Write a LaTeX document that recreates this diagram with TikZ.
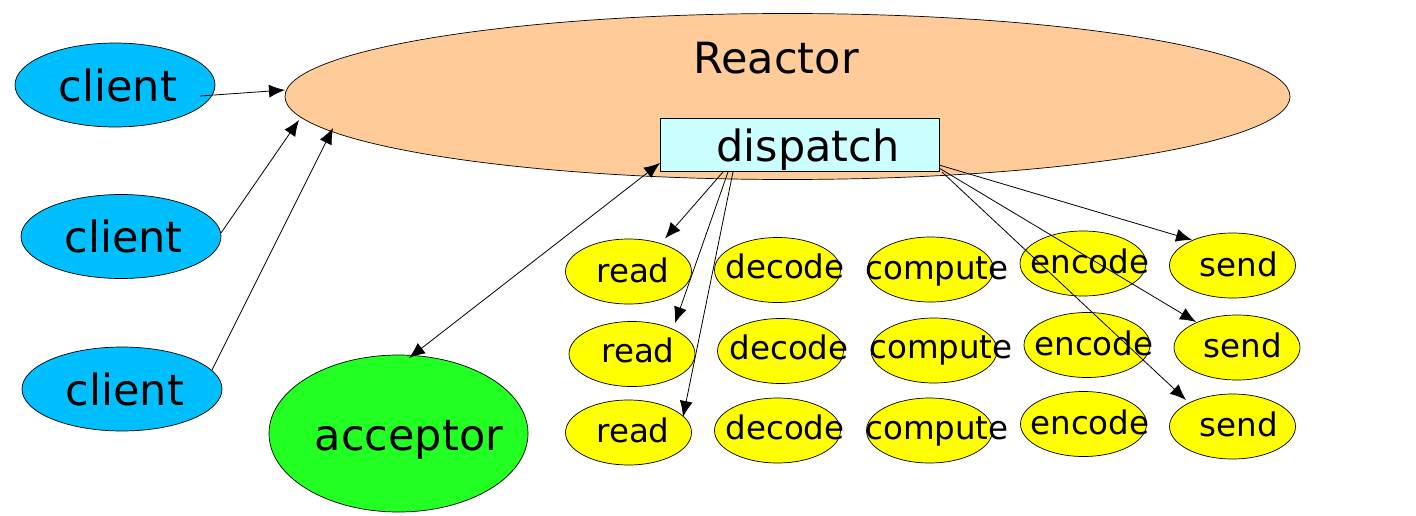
\documentclass[tikz,border=0pt]{standalone}
\usepackage{fontspec}
\setmainfont{DejaVu Sans}
\usetikzlibrary{shapes.geometric,arrows.meta}
\definecolor{clientblue}{RGB}{0,191,255}
\definecolor{reactorpeach}{RGB}{255,204,153}
\definecolor{dispcyan}{RGB}{204,255,255}
\definecolor{accgreen}{RGB}{34,255,34}
\definecolor{jobyellow}{RGB}{255,255,0}
\tikzset{
  ell/.style={ellipse, draw=black, line width=0.7pt, inner sep=0pt, outer sep=0pt},
  cli/.style={ell, fill=clientblue, minimum width=200pt, minimum height=84pt},
  job/.style={ell, fill=jobyellow, minimum width=126pt, minimum height=65pt},
  bigtxt/.style={font=\fontsize{43}{50}\selectfont, inner sep=0pt},
  smalltxt/.style={font=\fontsize{32.5}{38}\selectfont, inner sep=0pt},
  arr/.style={-{Latex[length=16pt,width=13pt]}, line width=0.8pt},
  darr/.style={{Latex[length=16pt,width=13pt]}-{Latex[length=16pt,width=13pt]}, line width=0.8pt}
}
\begin{document}
\begin{tikzpicture}[x=1pt,y=-1pt]
\fill[white] (0,0) rectangle (1416,516);
\useasboundingbox (0,0) rectangle (1416,516);

% Reactor
\node[ell, fill=reactorpeach, minimum width=1005pt, minimum height=166pt] (reactor) at (787.5,96.5) {};
\node[bigtxt] (reactorT) at (776,58) {Reactor};
\node[draw=black, line width=0.7pt, fill=dispcyan, minimum width=279pt, minimum height=53pt, inner sep=0pt, outer sep=0pt] (dispatch) at (799.5,144.5) {};
\node[bigtxt] (dispatchT) at (808,149.5) {dispatch};

% clients
\node[cli] (c1) at (115,85) {};
\node[bigtxt] (c1T) at (118,85) {client};
\node[cli] (c2) at (121,236.5) {};
\node[bigtxt] (c2T) at (123.5,236) {client};
\node[cli] (c3) at (122,389) {};
\node[bigtxt] (c3T) at (125,389) {client};

% acceptor
\node[ell, fill=accgreen, minimum width=259pt, minimum height=157pt] (acc) at (398.5,433.5) {};
\node[bigtxt] (accT) at (409,440) {acceptor};

% row 1
\node[job] (r1) at (628.5,271.5) {};
\node[smalltxt] (r1T) at (633,270) {read};
\node[job] (d1) at (777.5,270) {};
\node[smalltxt] (d1T) at (785,266) {decode};
\node[job] (p1) at (930.5,269.5) {};
\node[smalltxt] (p1T) at (937,271) {compute};
\node[job] (e1) at (1083,263.5) {};
\node[smalltxt] (e1T) at (1090,261) {encode};
\node[job] (s1) at (1232.5,265.5) {};
\node[smalltxt] (s1T) at (1239,264) {send};

% row 2
\node[job] (r2) at (632,354) {};
\node[smalltxt] (r2T) at (638,350) {read};
\node[job] (d2) at (780.5,351) {};
\node[smalltxt] (d2T) at (789,347) {decode};
\node[job] (p2) at (934,350.5) {};
\node[smalltxt] (p2T) at (941,350) {compute};
\node[job] (e2) at (1087,345) {};
\node[smalltxt] (e2T) at (1094,343) {encode};
\node[job] (s2) at (1237,347.5) {};
\node[smalltxt] (s2T) at (1243,345.5) {send};

% row 3
\node[job] (r3) at (628.5,432.5) {};
\node[smalltxt] (r3T) at (633,430) {read};
\node[job] (d3) at (777.5,430.5) {};
\node[smalltxt] (d3T) at (785,427) {decode};
\node[job] (p3) at (929.5,430.5) {};
\node[smalltxt] (p3T) at (937,431) {compute};
\node[job] (e3) at (1083.5,424) {};
\node[smalltxt] (e3T) at (1090,422) {encode};
\node[job] (s3) at (1232.5,426.5) {};
\node[smalltxt] (s3T) at (1239,424) {send};

% client arrows
\draw[arr] ([shift={(85pt,-11pt)}]c1.center) -- ([shift={(-502.5pt,6.5pt)}]reactor.center);
\draw[arr] ([shift={(100pt,3.5pt)}]c2.center) -- ([shift={(-488.5pt,-23.5pt)}]reactor.center);
\draw[arr] ([shift={(90pt,19pt)}]c3.center) -- ([shift={(-454.5pt,-31.5pt)}]reactor.center);

% dispatch <-> acceptor
\draw[darr] ([shift={(-139.5pt,-18.5pt)}]dispatch.center) -- ([shift={(10.5pt,75.5pt)}]acc.center);

% dispatch -> read
\draw[arr] ([shift={(-76.5pt,-27.5pt)}]dispatch.center) -- ([shift={(36.5pt,33pt)}]r1.center);
\draw[arr] ([shift={(-71.5pt,-27.5pt)}]dispatch.center) -- ([shift={(43pt,31pt)}]r2.center);
\draw[arr] ([shift={(-66.5pt,-27.5pt)}]dispatch.center) -- ([shift={(54.5pt,15.5pt)}]r3.center);

% dispatch -> send
\draw[arr] ([shift={(139.5pt,-20.5pt)}]dispatch.center) -- ([shift={(-40.5pt,25.5pt)}]s1.center);
\draw[arr] ([shift={(139.5pt,-23.5pt)}]dispatch.center) -- ([shift={(-41pt,25.5pt)}]s2.center);
\draw[arr] ([shift={(142.5pt,-27.5pt)}]dispatch.center) -- ([shift={(-46.5pt,26.5pt)}]s3.center);
\end{tikzpicture}
\end{document}
